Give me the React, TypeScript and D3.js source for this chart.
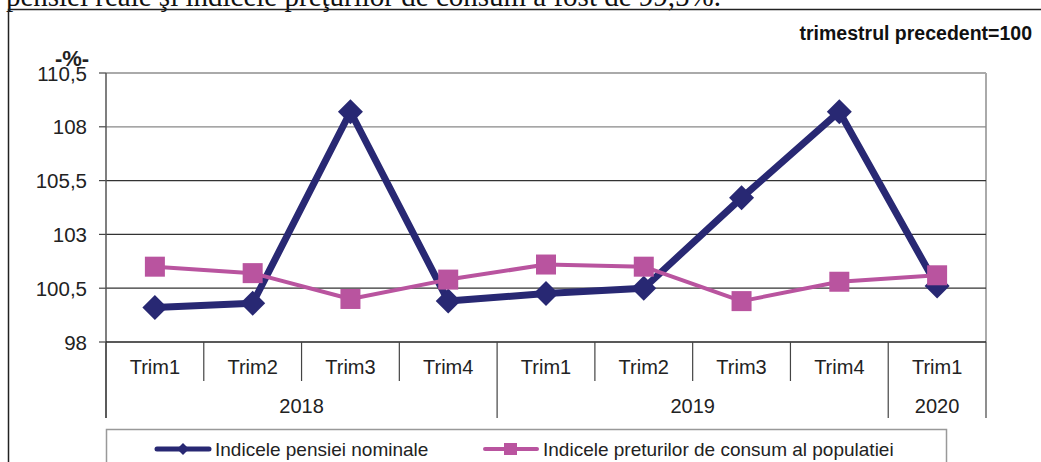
import React from "react";
import * as d3 from "d3";

const categories = ["Trim1", "Trim2", "Trim3", "Trim4", "Trim1", "Trim2", "Trim3", "Trim4", "Trim1"];
const yearLabels = ["2018", "2019", "2020"];
const yearSpans = [4, 4, 1];
const pensionIndex = [99.6, 99.8, 108.7, 99.9, 100.25, 100.5, 104.7, 108.7, 100.6];
const cpiIndex = [101.5, 101.2, 100.0, 100.9, 101.6, 101.5, 99.9, 100.8, 101.1];
const yTicks = [98, 100.5, 103, 105.5, 108, 110.5];
const seriesNames = ["Indicele pensiei nominale", "Indicele preturilor de consum al populatiei"];

const W = 1041;
const H = 462;
const L = 106;
const R = 986;
const T = 73;
const B = 342;
const BLUE = "#282873";
const PINK = "#b9549f";
const FONT = "'Liberation Sans', Arial, sans-serif";

export default function App() {
  const x = d3.scaleBand<number>().domain(d3.range(categories.length)).range([L, R]).padding(0);
  const y = d3.scaleLinear().domain([98, 110.5]).range([B, T]);
  const cx = (i: number) => (x(i) as number) + x.bandwidth() / 2;
  const line = d3.line<number>().x((_, i) => cx(i)).y((v) => y(v));
  const fmt = (v: number) => String(v).replace(".", ",");

  const yearBounds: number[] = [0];
  yearSpans.forEach((s, i) => yearBounds.push(yearBounds[i] + s));
  const edge = (k: number) => (k >= categories.length ? R : (x(k) as number));

  const gridColor = (v: number) => (v === 110.5 ? "#aaa" : v === 108 ? "#888" : "#333");

  const diamond = (px: number, py: number, r: number) =>
    `M${px},${py - r}L${px + r},${py}L${px},${py + r}L${px - r},${py}Z`;

  return (
    <svg width={W} height={H} style={{ position: "absolute", left: 0, top: 0, background: "#fff" }} fontFamily={FONT}>
      <rect x={0} y={0} width={W} height={H} fill="#fff" />
      {/* text above the frame */}
      <text x={721} y={6} textAnchor="end" fontFamily="'Liberation Serif', 'Times New Roman', serif" fontSize={29} fill="#111">
        pensiei reale şi indicele preţurilor de consum a fost de 99,5%.
      </text>
      <rect x={8.5} y={9.5} width={1100} height={500} fill="none" stroke="#222" strokeWidth={1.5} />
      <text x={1032} y={40} textAnchor="end" fontWeight="bold" fontSize={19.5} fill="#111">
        trimestrul precedent=100
      </text>

      {/* plot frame */}
      <line x1={L} x2={R} y1={T} y2={T} stroke="#aaa" strokeWidth={2} />
      <line x1={R} x2={R} y1={T} y2={B} stroke="#aaa" strokeWidth={2} />
      {yTicks.filter((v) => v !== 110.5 && v !== 98).map((v) => (
        <line key={"g" + v} x1={L} x2={R} y1={y(v)} y2={y(v)} stroke={gridColor(v)} strokeWidth={1.2} />
      ))}
      {yTicks.map((v) => (
        <g key={"t" + v}>
          <line x1={L - 7} x2={L} y1={y(v)} y2={y(v)} stroke="#444" strokeWidth={1.2} />
          <text x={87} y={y(v) + 7.5} textAnchor="end" fontSize={20.5} fill="#222">
            {fmt(v)}
          </text>
        </g>
      ))}
      <text x={72} y={66} textAnchor="middle" fontSize={22} fontWeight="bold" fill="#222">
        -%-
      </text>
      <line x1={L} x2={L} y1={T} y2={418} stroke="#555" strokeWidth={1.5} />
      <line x1={L} x2={R} y1={B} y2={B} stroke="#222" strokeWidth={1.5} />

      {/* category axis */}
      {d3.range(1, categories.length).filter((k) => !yearBounds.includes(k)).map((k) => (
        <line key={"c" + k} x1={edge(k)} x2={edge(k)} y1={B} y2={381} stroke="#444" strokeWidth={1.2} />
      ))}
      {yearBounds.map((k) => (
        <line key={"y" + k} x1={edge(k)} x2={edge(k)} y1={B} y2={418} stroke="#444" strokeWidth={1.2} />
      ))}
      {categories.map((c, i) => (
        <text key={"cl" + i} x={cx(i)} y={374} textAnchor="middle" fontSize={20} fill="#222">
          {c}
        </text>
      ))}
      {yearLabels.map((lab, j) => (
        <text key={"yl" + j} x={(edge(yearBounds[j]) + edge(yearBounds[j + 1])) / 2} y={413} textAnchor="middle" fontSize={20} fill="#222">
          {lab}
        </text>
      ))}

      {/* series */}
      <path d={line(pensionIndex) || ""} fill="none" stroke={BLUE} strokeWidth={7} strokeLinejoin="round" />
      {pensionIndex.map((v, i) => (
        <path key={"d" + i} d={diamond(cx(i), y(v), 12.5)} fill={BLUE} />
      ))}
      <path d={line(cpiIndex) || ""} fill="none" stroke={PINK} strokeWidth={4} strokeLinejoin="round" />
      {cpiIndex.map((v, i) => (
        <rect key={"s" + i} x={cx(i) - 10} y={y(v) - 10} width={20} height={20} fill={PINK} />
      ))}

      {/* legend */}
      <rect x={106.5} y={429.5} width={840} height={60} fill="#fff" stroke="#999" strokeWidth={1.5} />
      <line x1={157} x2={209} y1={449} y2={449} stroke={BLUE} strokeWidth={5} strokeLinecap="round" />
      <path d={diamond(183, 449, 6)} fill={BLUE} />
      <text x={215} y={456} fontSize={19} fill="#222">{seriesNames[0]}</text>
      <line x1={485} x2={537} y1={449} y2={449} stroke={PINK} strokeWidth={4} strokeLinecap="round" />
      <rect x={504} y={443} width={13} height={12} fill={PINK} />
      <text x={543} y={456} fontSize={19} fill="#222">{seriesNames[1]}</text>
    </svg>
  );
}
